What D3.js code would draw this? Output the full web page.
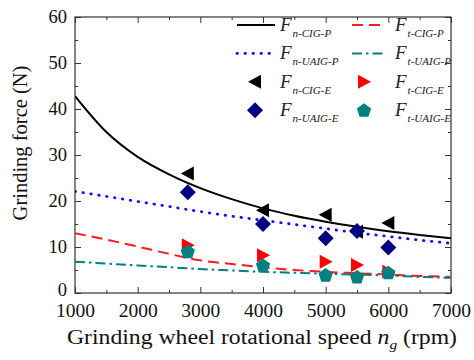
<!DOCTYPE html>
<html><head><meta charset="utf-8">
<script src="https://cdn.jsdelivr.net/npm/d3@7"></script>
<style>body{margin:0;background:#fff}svg{display:block}svg text{font-family:"Liberation Serif","Times New Roman",serif}</style>
</head><body><svg id="c" width="474" height="360"></svg>
<script>
// ---- data ----
const speedGrid = [1000,1500,2000,2500,3000,3500,4000,4500,5000,5500,6000,6500,7000];
const fnCIGP   = [42.8,35.0,29.6,25.8,22.8,20.4,18.4,16.8,15.5,14.4,13.4,12.6,11.9];
const ftCIGP   = [13.0,11.6,10.1,8.5,7.1,6.3,5.6,5.0,4.6,4.3,4.0,3.7,3.5];
const fnUAIGP  = [22.1,21.0,19.9,18.8,17.7,16.7,15.8,14.9,14.0,13.1,12.3,11.5,10.8];
const ftUAIGP  = [6.8,6.4,6.0,5.6,5.2,4.9,4.6,4.4,4.2,4.0,3.8,3.5,3.3];
const expSpeed = [2800,4000,5000,5500,6000];
const fnCIGE   = [26.0,18.0,17.0,13.3,15.2];
const ftCIGE   = [10.4,8.2,6.8,6.1,4.6];
const fnUAIGE  = [21.9,15.0,11.9,13.5,9.9];
const ftUAIGE  = [9.0,6.0,3.9,3.5,4.4];
const xTicks = [1000,2000,3000,4000,5000,6000,7000];
const yTicks = [0,10,20,30,40,50,60];

const svg = d3.select("#c");
const L=75,R=451,T=17,B=293;
const x = d3.scaleLinear().domain([1000,7000]).range([L,R]);
const y = d3.scaleLinear().domain([0,60]).range([B,T]);
const SERIF = '"Liberation Serif","Times New Roman",serif';

// axes
function styleAxis(g){ g.attr("font-family",SERIF); g.select(".domain").remove(); g.selectAll("line").attr("stroke","#333").attr("stroke-width",1); }
const minorX = d3.range(1500,7000,1000), minorY = d3.range(5,60,10);
svg.append("g").attr("transform",`translate(0,${B})`)
  .call(d3.axisBottom(x).tickValues(xTicks).tickSizeInner(-6).tickSizeOuter(0).tickPadding(10).tickFormat(d3.format("d")))
  .call(styleAxis).selectAll("text").attr("font-size",19.5).attr("fill","#111").style("font-family",SERIF);
svg.append("g").attr("transform",`translate(0,${B})`).call(d3.axisBottom(x).tickValues(minorX).tickSize(-3).tickFormat("")).call(styleAxis);
svg.append("g").attr("transform",`translate(0,${T})`).call(d3.axisTop(x).tickValues(xTicks).tickSize(-6).tickFormat("")).call(styleAxis);
svg.append("g").attr("transform",`translate(0,${T})`).call(d3.axisTop(x).tickValues(minorX).tickSize(-3).tickFormat("")).call(styleAxis);
svg.append("g").attr("transform",`translate(${L},0)`)
  .call(d3.axisLeft(y).tickValues(yTicks).tickSizeInner(-6).tickSizeOuter(0).tickPadding(8))
  .call(styleAxis).selectAll("text").attr("font-size",18.5).attr("fill","#111").style("font-family",SERIF)
  .attr("dy",d=>d===0?"0.12em":"0.32em");
svg.append("g").attr("transform",`translate(${L},0)`).call(d3.axisLeft(y).tickValues(minorY).tickSize(-3).tickFormat("")).call(styleAxis);
svg.append("g").attr("transform",`translate(${R},0)`).call(d3.axisRight(y).tickValues(yTicks).tickSize(-6).tickFormat("")).call(styleAxis);
svg.append("g").attr("transform",`translate(${R},0)`).call(d3.axisRight(y).tickValues(minorY).tickSize(-3).tickFormat("")).call(styleAxis);
svg.append("rect").attr("x",L).attr("y",T).attr("width",R-L).attr("height",B-T).attr("fill","none").attr("stroke","#333").attr("stroke-width",1.2);

// lines
const line = d3.line().x(d=>x(d[0])).y(d=>y(d[1])).curve(d3.curveMonotoneX);
const BLUE_DASH = "0.5,7.5";
const series = [
  {v:fnCIGP, c:"#000", dash:null, w:2},
  {v:fnUAIGP, c:"#1010ff", dash:BLUE_DASH, w:2.8},
  {v:ftCIGP, c:"#ff1a1a", dash:"11,6", w:2},
  {v:ftUAIGP, c:"#008080", dash:"10,4,2.5,4", w:2}
];
svg.append("clipPath").attr("id","pc").append("rect").attr("x",L).attr("y",T).attr("width",R-L).attr("height",B-T);
series.forEach(s=>{
  svg.append("path").attr("clip-path","url(#pc)").attr("d",line(speedGrid.map((n,i)=>[n,s.v[i]])))
    .attr("fill","none").attr("stroke",s.c).attr("stroke-width",s.w).attr("stroke-dasharray",s.dash)
    .attr("stroke-linecap",s.dash===BLUE_DASH?"round":"butt");
});

// markers
const shapes = {
  left: "M-7,0L6,-7L6,7Z",
  right:"M7,0L-6,-7L-6,7Z",
  diamond:"M0,-8L8,0L0,8L-8,0Z",
  pent: (()=>{let p=[];for(let k=0;k<5;k++){const a=-Math.PI/2+k*2*Math.PI/5;p.push([7.5*Math.cos(a),7.5*Math.sin(a)+0.5]);}return "M"+p.join("L")+"Z";})()
};
const expSets = [
  {v:fnCIGE, s:"left", c:"#000"},
  {v:fnUAIGE, s:"diamond", c:"#000080"},
  {v:ftCIGE, s:"right", c:"#ff0000"},
  {v:ftUAIGE, s:"pent", c:"#008080"}
];
expSets.forEach(e=>{
  svg.append("g").selectAll("path").data(expSpeed.map((n,i)=>[n,e.v[i]])).join("path")
    .attr("transform",d=>`translate(${x(d[0])},${y(d[1])})`).attr("d",shapes[e.s]).attr("fill",e.c);
});

// legend
const legend = [
  {col:0,row:0,type:"line",c:"#000",dash:null,w:2,sub:"n-CIG-P"},
  {col:1,row:0,type:"line",c:"#ff1a1a",dash:"11,6",w:2,sub:"t-CIG-P"},
  {col:0,row:1,type:"line",c:"#1010ff",dash:BLUE_DASH,w:2.8,sub:"n-UAIG-P"},
  {col:1,row:1,type:"line",c:"#008080",dash:"10,4,2.5,4",w:2,sub:"t-UAIG-P"},
  {col:0,row:2,type:"left",c:"#000",sub:"n-CIG-E"},
  {col:1,row:2,type:"right",c:"#ff0000",sub:"t-CIG-E"},
  {col:0,row:3,type:"diamond",c:"#000080",sub:"n-UAIG-E"},
  {col:1,row:3,type:"pent",c:"#008080",sub:"t-UAIG-E"}
];
const colX = [[237,275,280],[352,384,395]];
legend.forEach(l=>{
  const yy = 25 + l.row*28.4;
  const cx = colX[l.col];
  if(l.type==="line"){
    svg.append("line").attr("x1",cx[0]).attr("x2",cx[1]).attr("y1",yy).attr("y2",yy)
      .attr("stroke",l.c).attr("stroke-width",l.w).attr("stroke-dasharray",l.dash)
      .attr("stroke-linecap",l.dash===BLUE_DASH?"round":"butt");
  } else {
    svg.append("path").attr("transform",`translate(${(cx[0]+cx[1])/2 - (l.col?4:1)},${yy})`).attr("d",shapes[l.type]).attr("fill",l.c);
  }
  const t = svg.append("text").attr("x",cx[2]).attr("y",yy+6).attr("fill","#222");
  t.append("tspan").attr("font-style","italic").attr("font-size",19).text("F");
  t.append("tspan").attr("font-style","italic").attr("font-size",11).attr("dy",6).attr("dx",1).text(l.sub);
});

// titles
svg.append("text").attr("transform","translate(27,143) rotate(-90)").attr("text-anchor","middle")
  .attr("font-size",20.5).attr("fill","#111").text("Grinding force (N)");
const xt = svg.append("text").attr("x",262).attr("y",344).attr("text-anchor","middle").attr("font-size",20).attr("fill","#111")
  .attr("textLength",390).attr("lengthAdjust","spacingAndGlyphs");
xt.append("tspan").text("Grinding wheel rotational speed ");
xt.append("tspan").attr("font-style","italic").text("n");
xt.append("tspan").attr("font-style","italic").attr("font-size",13).attr("dy",5).text("g");
xt.append("tspan").attr("dy",-5).text(" (rpm)");
</script></body></html>
